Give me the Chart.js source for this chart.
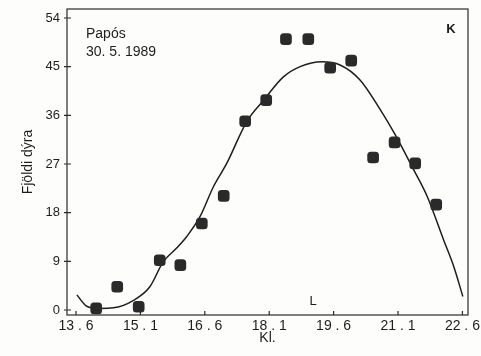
<!DOCTYPE html>
<html>
<head>
<meta charset="utf-8">
<script src="https://cdn.jsdelivr.net/npm/chart.js@4.4.0/dist/chart.umd.min.js"></script>
<style>
  html, body { margin: 0; padding: 0; background: #fdfdfb; }
  #wrap { width: 481px; height: 356px; }
</style>
</head>
<body>
<div id="wrap"><canvas id="fjoldiChart" width="481" height="356"></canvas></div>
<script>
// Talning dýra við Papós 30. 5. 1989, ein talning á hálftíma fresti
const timar = [14.07, 14.56, 15.06, 15.55, 16.03, 16.53, 17.04, 17.54, 18.03,
               18.49, 19.01, 19.52, 20.01, 20.52, 21.02, 21.50, 21.99];
const fjoldi = [0.3, 4.3, 0.6, 9.2, 8.3, 16.0, 21.1, 34.9, 38.8,
                50.1, 50.1, 44.8, 46.1, 28.2, 31.0, 27.1, 19.5];

// Aðlagaður ferill
const ferillX = [13.62, 13.85, 14.16, 14.47, 14.94, 15.32, 15.63, 15.95, 16.18, 16.49,
                 16.8, 17.11, 17.58, 17.97, 18.43, 18.82, 19.33, 19.75, 20.22, 20.69,
                 21.02, 21.46, 21.78, 22.16, 22.4, 22.61];
const ferillY = [2.8, 0.7, 0.3, 0.4, 1.8, 4.3, 8.9, 11.5, 13.6, 17.3,
                 22.8, 27.1, 34.9, 38.8, 43.1, 45.0, 45.9, 45.3, 42.5, 37.0,
                 32.6, 26.0, 21.0, 13.0, 8.0, 2.5];

const xTicks = [13.6, 15.1, 16.6, 18.1, 19.6, 21.1, 22.6];
const xTickLabels = ['13 . 6', '15 . 1', '16 . 6', '18 . 1', '19 . 6', '21 . 1', '22 . 6'];
const yTicks = [0, 9, 18, 27, 36, 45, 54];

const ink = '#1e1e1e';
const font = 'Liberation Sans, Arial, Helvetica, sans-serif';

// ramminn, innvísandi merki og textar inni í myndinni
const ramma = {
  id: 'ramma',
  afterDraw(chart) {
    const ctx = chart.ctx;
    const a = chart.chartArea;
    const sx = chart.scales.x, sy = chart.scales.y;
    ctx.save();
    ctx.strokeStyle = '#2a2a2a';
    ctx.lineWidth = 1.2;
    ctx.strokeRect(a.left, a.top, a.right - a.left, a.bottom - a.top);
    ctx.beginPath();
    xTicks.forEach(v => {
      const px = sx.getPixelForValue(v);
      ctx.moveTo(px, a.bottom);
      ctx.lineTo(px, a.bottom - 4);
    });
    yTicks.forEach(v => {
      const py = sy.getPixelForValue(v);
      ctx.moveTo(a.left - 3, py);
      ctx.lineTo(a.left + 4, py);
    });
    ctx.stroke();

    ctx.fillStyle = ink;
    ctx.textBaseline = 'middle';
    ctx.textAlign = 'left';
    ctx.font = '14px ' + font;
    ctx.fillText('Papós', a.left + 19, a.top + 25);
    ctx.fillText('30. 5. 1989', a.left + 19, a.top + 43);
    ctx.textAlign = 'center';
    ctx.font = 'bold 13px ' + font;
    ctx.fillText('K', 451, a.top + 20);
    ctx.font = '13px ' + font;
    ctx.fillText('L', 313, a.bottom - 14);
    ctx.restore();
  }
};

const ctx = document.getElementById('fjoldiChart').getContext('2d');
const chart = new Chart(ctx, {
  type: 'scatter',
  data: {
    datasets: [
      {
        label: 'Fjöldi dýra',
        data: timar.map((t, i) => ({ x: t, y: fjoldi[i] })),
        pointStyle: 'rectRounded',
        pointRadius: 6.8,
        pointHoverRadius: 6.8,
        backgroundColor: '#2a2a2a',
        borderColor: '#2a2a2a',
        borderWidth: 0,
        order: 1
      },
      {
        label: 'Ferill',
        data: ferillX.map((t, i) => ({ x: t, y: ferillY[i] })),
        showLine: true,
        cubicInterpolationMode: 'monotone',
        pointRadius: 0,
        borderColor: ink,
        borderWidth: 1.5,
        fill: false,
        order: 2
      }
    ]
  },
  options: {
    responsive: false,
    animation: false,
    devicePixelRatio: 1,
    layout: { padding: { left: 0, top: 9, right: 13, bottom: 0 } },
    plugins: {
      legend: { display: false },
      tooltip: { enabled: false }
    },
    scales: {
      x: {
        type: 'linear',
        min: 13.39,
        max: 22.73,
        afterBuildTicks: s => { s.ticks = xTicks.map(v => ({ value: v })); },
        afterFit: s => {
          s.height = 41;
          s.paddingLeft = 0;
          s.paddingRight = 0;
        },
        grid: { display: false, drawTicks: false },
        border: { display: false },
        ticks: {
          color: ink,
          padding: 3,
          maxRotation: 0,
          font: { family: font, size: 14 },
          callback: v => xTickLabels[xTicks.indexOf(v)]
        },
        title: {
          display: true,
          text: 'Kl.',
          color: ink,
          font: { family: font, size: 14 },
          padding: { top: 0, bottom: 9 }
        }
      },
      y: {
        type: 'linear',
        min: -0.92,
        max: 55.66,
        afterBuildTicks: s => { s.ticks = yTicks.map(v => ({ value: v })); },
        afterFit: s => {
          s.width = 67;
          s.paddingTop = 0;
          s.paddingBottom = 0;
        },
        grid: { display: false, drawTicks: false },
        border: { display: false },
        ticks: {
          color: ink,
          padding: 7,
          font: { family: font, size: 13 }
        },
        title: {
          display: true,
          text: 'Fjöldi dýra',
          color: ink,
          font: { family: font, size: 14 },
          padding: { top: 20, bottom: 0 }
        }
      }
    }
  },
  plugins: [ramma]
});
</script>
</body>
</html>
